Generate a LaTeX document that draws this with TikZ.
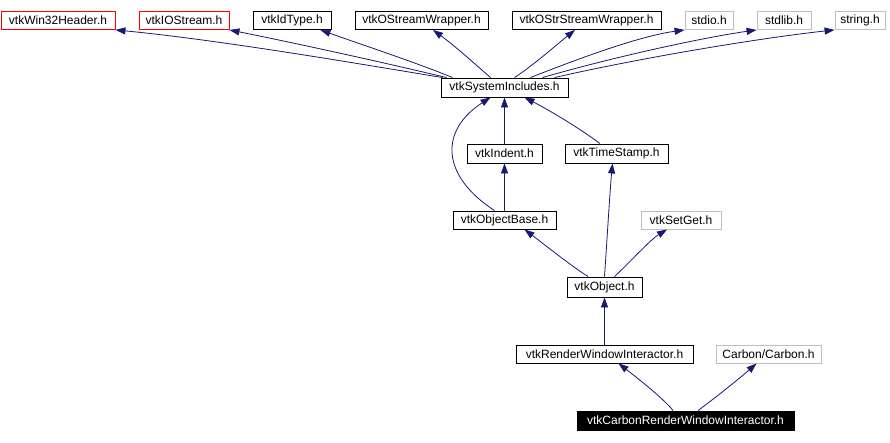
\documentclass[tikz,border=0pt]{standalone}
\usepackage{fontspec}
\setmainfont{Liberation Sans}
\usetikzlibrary{arrows.meta}
\definecolor{edgeblue}{RGB}{25,25,112}
\definecolor{boxred}{RGB}{255,0,0}
\definecolor{boxgray}{RGB}{191,191,191}
\tikzset{
  hbox/.style={draw=black, line width=0.9pt, fill=white, inner sep=0pt, font=\fontsize{12}{14}\selectfont, anchor=center},
  redbox/.style={hbox, draw=boxred},
  graybox/.style={hbox, draw=boxgray},
  mainbox/.style={hbox, fill=black, text=white},
  edge/.style={draw=edgeblue, line width=0.8pt, -{Triangle[length=10pt,width=7pt]}},
}
\begin{document}
\begin{tikzpicture}[x=1pt,y=-1pt]
\fill[white] (0,0) rectangle (890,442);
\useasboundingbox (0,0) rectangle (890,442);
% row 1
\node[redbox, minimum width=114, minimum height=18] (win) at (58,20.5) {vtkWin32Header.h};
\node[redbox, minimum width=90, minimum height=18] (ios) at (184,20.5) {vtkIOStream.h};
\node[hbox, minimum width=78, minimum height=18] (idt) at (292,20.5) {vtkIdType.h};
\node[hbox, minimum width=133, minimum height=18] (osw) at (421.5,20.5) {vtkOStreamWrapper.h};
\node[hbox, minimum width=149, minimum height=18] (ossw) at (586.5,20.5) {vtkOStrStreamWrapper.h};
\node[graybox, minimum width=48, minimum height=18] (stdio) at (709,20.5) {stdio.h};
\node[graybox, minimum width=54, minimum height=18] (stdlib) at (784,20.5) {stdlib.h};
\node[graybox, minimum width=50, minimum height=18] (string) at (860,20.5) {string.h};
% system includes
\node[hbox, minimum width=127, minimum height=19] (sys) at (504.5,87.5) {vtkSystemIncludes.h};
% row 3
\node[hbox, minimum width=75, minimum height=19] (ind) at (504.5,153.5) {vtkIndent.h};
\node[hbox, minimum width=103, minimum height=19] (ts) at (616.5,153.5) {vtkTimeStamp.h};
% row 4
\node[hbox, minimum width=103, minimum height=18] (ob) at (504.5,220) {vtkObjectBase.h};
\node[graybox, minimum width=80, minimum height=18] (sg) at (681,220) {vtkSetGet.h};
% object
\node[hbox, minimum width=75, minimum height=20] (obj) at (604.5,287) {vtkObject.h};
% rwi row
\node[hbox, minimum width=177, minimum height=18] (rwi) at (604.5,354) {vtkRenderWindowInteractor.h};
\node[graybox, minimum width=105, minimum height=18] (cc) at (768.5,354) {Carbon/Carbon.h};
% main
\node[mainbox, minimum width=217, minimum height=19] (cr) at (685.5,420.5) {vtkCarbonRenderWindowInteractor.h};
% edges to top row
\draw[edge] ([xshift=2]sys.north west) .. controls (360,64) and (220,40) .. (win.south east);
\draw[edge] ([xshift=6]sys.north west) .. controls (390,64) and (300,44) .. (ios.south east);
\draw[edge] ([xshift=12]sys.north west) .. controls (420,64) and (360,44) .. ([xshift=-11]idt.south east);
\draw[edge] ([xshift=-14]sys.north) .. controls (475,64) and (455,46) .. ([xshift=11.5]osw.south);
\draw[edge] ([xshift=10]sys.north) .. controls (535,64) and (555,46) .. ([xshift=-11.5]ossw.south);
\draw[edge] ([xshift=26]sys.north) .. controls (580,58) and (640,36) .. (stdio.south west);
\draw[edge] ([xshift=38]sys.north) .. controls (610,58) and (700,38) .. (stdlib.south west);
\draw[edge] ([xshift=50]sys.north) .. controls (640,58) and (760,38) .. (string.south west);
% middle edges
\draw[edge] (ind.north) -- (sys.south);
\draw[edge] ([xshift=-16.5]ts.north) .. controls (575,125) and (545,108) .. ([xshift=20]sys.south);
\draw[edge] ([xshift=-10]ob.north) .. controls (440,175) and (440,130) .. ([xshift=-14]sys.south);
\draw[edge] (ob.north) -- (ind.south);
\draw[edge] ([xshift=-16.5]obj.north) .. controls (570,265) and (545,245) .. ([xshift=20]ob.south);
\draw[edge] (obj.north) .. controls (607,240) and (610,190) .. ([xshift=-4]ts.south);
\draw[edge] ([xshift=10]obj.north) .. controls (630,262) and (650,240) .. ([xshift=-14]sg.south);
\draw[edge] (rwi.north) -- (obj.south);
\draw[edge] ([xshift=-12.5]cr.north) .. controls (665,400) and (640,380) .. ([xshift=14]rwi.south);
\draw[edge] ([xshift=12.5]cr.north) .. controls (715,398) and (740,378) .. ([xshift=-12]cc.south);
\end{tikzpicture}
\end{document}
